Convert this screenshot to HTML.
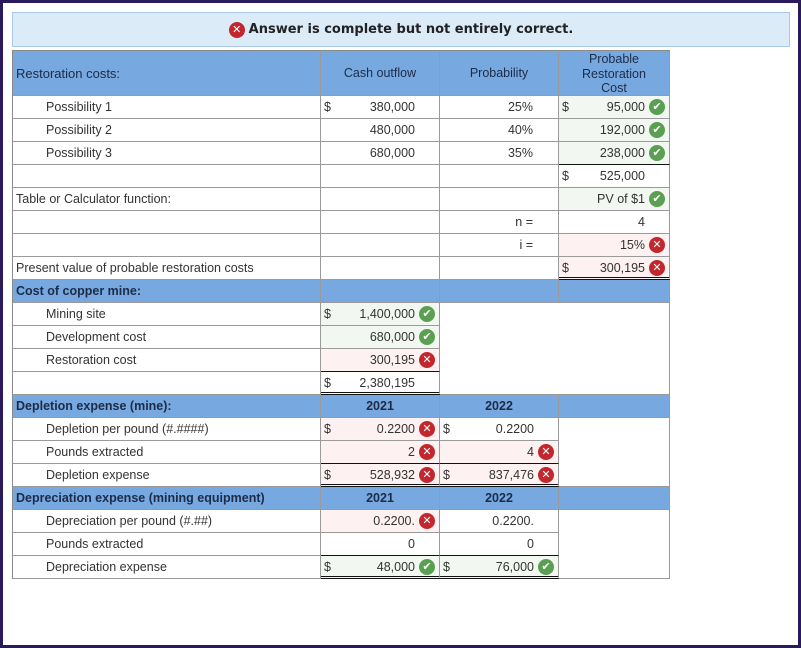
<!DOCTYPE html>
<html><head><meta charset="utf-8"><style>
html,body{margin:0;padding:0}
body{width:801px;height:648px;position:relative;background:#fff;font-family:"Liberation Sans",Arial,sans-serif;font-size:12.5px;color:#333;overflow:hidden}
.frame{position:absolute;left:0;top:0;width:795px;height:642px;border:3px solid #2a1a5c}
.banner{position:absolute;left:12px;top:12px;width:776px;height:33px;background:#dcebf8;border:1px solid #aac9e6;display:flex;align-items:center;justify-content:center;font-family:"DejaVu Sans",Verdana,sans-serif;font-weight:bold;font-size:13px;color:#222}
.grid{position:absolute;left:12px;top:50px;display:grid;grid-template-columns:308px 119px 119px 111px;grid-template-rows:45px repeat(21,23px);border-left:1px solid #8a8a8a;border-top:1px solid #8a8a8a}
.grid>div{box-sizing:border-box;border-right:1px solid #9a9a9a;border-bottom:1px solid #9a9a9a;position:relative;line-height:22px;white-space:nowrap}
.h{background:#77a8e0;color:#1c2c48}
.hc{text-align:center}
.b{font-weight:bold}
.ind{padding-left:33px}
.lab{padding-left:3px}
.v{text-align:right;padding-right:24px}
.v3{text-align:right;padding-right:25px}
.d{position:absolute;left:3px;top:0}
.ok{background:#f3f7f1}
.bad{background:#fdf1f1}
.nb{border-bottom:none!important}
.nr{border-right:none!important}
.tb{border-bottom:1px solid #111!important}
.dbl{border-bottom:3px double #111!important}
.ic{position:absolute;right:4px;top:3px;width:16px;height:16px;border-radius:50%;color:#fff;font-size:11px;line-height:16px;text-align:center;font-weight:bold;font-family:"DejaVu Sans",sans-serif}
.g{background:#5a9f52}.r{background:#c1272d}
.g::after{content:"✔"}.r::after{content:"✕"}
.bi{display:block;width:16px;height:16px;border-radius:50%;margin-right:4px;line-height:16px;text-align:center;color:#fff;font-size:11px;flex:none}
</style></head><body>
<div class="frame"></div>
<div class="banner"><span class="bi r"></span><span>Answer is complete but not entirely correct.</span></div>
<div class="grid">
<div class="h lab" style="line-height:45px;font-size:13px">Restoration costs:</div>
<div class="h hc" style="line-height:45px">Cash outflow</div>
<div class="h hc" style="line-height:45px">Probability</div>
<div class="h hc" style="line-height:14.5px;padding-top:1px">Probable<br>Restoration<br>Cost</div>
<div class="ind">Possibility 1</div>
<div class="v"><span class="d">$</span>380,000</div>
<div class="v3">25%</div>
<div class="v ok"><span class="d">$</span>95,000<span class="ic g"></span></div>
<div class="ind">Possibility 2</div>
<div class="v">480,000</div>
<div class="v3">40%</div>
<div class="v ok">192,000<span class="ic g"></span></div>
<div class="ind">Possibility 3</div>
<div class="v">680,000</div>
<div class="v3">35%</div>
<div class="v ok tb">238,000<span class="ic g"></span></div>
<div></div>
<div></div>
<div></div>
<div class="v"><span class="d">$</span>525,000</div>
<div class="lab">Table or Calculator function:</div>
<div></div>
<div></div>
<div class="v ok">PV of $1<span class="ic g"></span></div>
<div></div>
<div></div>
<div class="v3">n =</div>
<div class="v">4</div>
<div></div>
<div></div>
<div class="v3">i =</div>
<div class="v bad">15%<span class="ic r"></span></div>
<div class="lab">Present value of probable restoration costs</div>
<div></div>
<div></div>
<div class="v bad dbl"><span class="d">$</span>300,195<span class="ic r"></span></div>
<div class="h lab b">Cost of copper mine:</div>
<div class="h"></div>
<div class="h"></div>
<div class="h"></div>
<div class="ind">Mining site</div>
<div class="v ok"><span class="d">$</span>1,400,000<span class="ic g"></span></div>
<div class="nb nr"></div>
<div class="nb"></div>
<div class="ind">Development cost</div>
<div class="v ok">680,000<span class="ic g"></span></div>
<div class="nb nr"></div>
<div class="nb"></div>
<div class="ind">Restoration cost</div>
<div class="v bad tb">300,195<span class="ic r"></span></div>
<div class="nb nr"></div>
<div class="nb"></div>
<div></div>
<div class="v dbl"><span class="d">$</span>2,380,195</div>
<div class="nr"></div>
<div></div>
<div class="h lab b">Depletion expense (mine):</div>
<div class="h hc b">2021</div>
<div class="h hc b">2022</div>
<div class="h"></div>
<div class="ind">Depletion per pound (#.####)</div>
<div class="v bad"><span class="d">$</span>0.2200<span class="ic r"></span></div>
<div class="v"><span class="d">$</span>0.2200</div>
<div class="nb"></div>
<div class="ind">Pounds extracted</div>
<div class="v bad tb">2<span class="ic r"></span></div>
<div class="v bad tb">4<span class="ic r"></span></div>
<div class="nb"></div>
<div class="ind">Depletion expense</div>
<div class="v bad dbl"><span class="d">$</span>528,932<span class="ic r"></span></div>
<div class="v bad dbl"><span class="d">$</span>837,476<span class="ic r"></span></div>
<div></div>
<div class="h lab b">Depreciation expense (mining equipment)</div>
<div class="h hc b">2021</div>
<div class="h hc b">2022</div>
<div class="h"></div>
<div class="ind">Depreciation per pound (#.##)</div>
<div class="v bad">0.2200.<span class="ic r"></span></div>
<div class="v">0.2200.</div>
<div class="nb"></div>
<div class="ind">Pounds extracted</div>
<div class="v tb">0</div>
<div class="v tb">0</div>
<div class="nb"></div>
<div class="ind">Depreciation expense</div>
<div class="v ok dbl"><span class="d">$</span>48,000<span class="ic g"></span></div>
<div class="v ok dbl"><span class="d">$</span>76,000<span class="ic g"></span></div>
<div></div>
</div>
</body></html>
